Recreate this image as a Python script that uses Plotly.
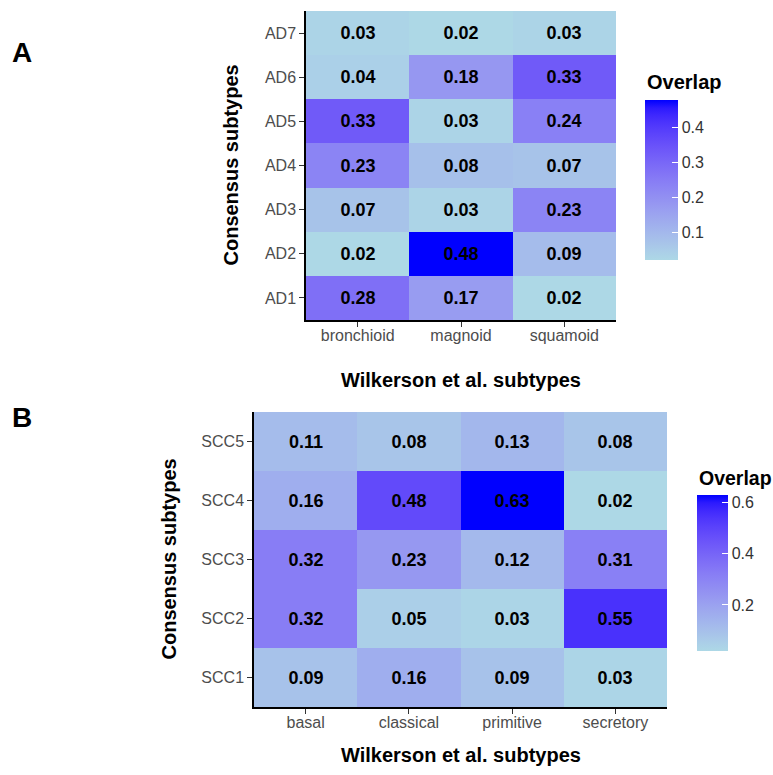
import plotly.graph_objects as go

# ---------------- data ----------------
a_cols = ["bronchioid", "magnoid", "squamoid"]
a_rows = ["AD1", "AD2", "AD3", "AD4", "AD5", "AD6", "AD7"]
a_vals = [
    [0.28, 0.17, 0.02],
    [0.02, 0.48, 0.09],
    [0.07, 0.03, 0.23],
    [0.23, 0.08, 0.07],
    [0.33, 0.03, 0.24],
    [0.04, 0.18, 0.33],
    [0.03, 0.02, 0.03],
]
a_ticks = [0.1, 0.2, 0.3, 0.4]

b_cols = ["basal", "classical", "primitive", "secretory"]
b_rows = ["SCC1", "SCC2", "SCC3", "SCC4", "SCC5"]
b_vals = [
    [0.09, 0.16, 0.09, 0.03],
    [0.32, 0.05, 0.03, 0.55],
    [0.32, 0.23, 0.12, 0.31],
    [0.16, 0.48, 0.63, 0.02],
    [0.11, 0.08, 0.13, 0.08],
]
b_ticks = [0.2, 0.4, 0.6]

x_title = "Wilkerson et al. subtypes"
y_title = "Consensus subtypes"
legend_title = "Overlap"

# ---------------- colour scale (Lab interpolation, like ggplot) ----------------
def hex_to_rgb(h):
    h = h.lstrip("#")
    return [int(h[i:i + 2], 16) / 255 for i in (0, 2, 4)]

def srgb_to_lin(c):
    return c / 12.92 if c <= 0.04045 else ((c + 0.055) / 1.055) ** 2.4

def lin_to_srgb(c):
    c = max(0.0, min(1.0, c))
    return 12.92 * c if c <= 0.0031308 else 1.055 * c ** (1 / 2.4) - 0.055

WX, WY, WZ = 0.95047, 1.0, 1.08883

def f(t):
    return t ** (1 / 3) if t > 216 / 24389 else (24389 / 27 * t + 16) / 116

def finv(t):
    return t ** 3 if t ** 3 > 216 / 24389 else (116 * t - 16) / (24389 / 27)

def rgb_to_lab(rgb):
    r, g, b = [srgb_to_lin(c) for c in rgb]
    X = 0.4124 * r + 0.3576 * g + 0.1805 * b
    Y = 0.2126 * r + 0.7152 * g + 0.0722 * b
    Z = 0.0193 * r + 0.1192 * g + 0.9505 * b
    fx, fy, fz = f(X / WX), f(Y / WY), f(Z / WZ)
    return [116 * fy - 16, 500 * (fx - fy), 200 * (fy - fz)]

def lab_to_rgb(lab):
    L, A, B = lab
    fy = (L + 16) / 116
    fx = fy + A / 500
    fz = fy - B / 200
    X, Y, Z = WX * finv(fx), WY * finv(fy), WZ * finv(fz)
    r = 3.2406 * X - 1.5372 * Y - 0.4986 * Z
    g = -0.9689 * X + 1.8758 * Y + 0.0415 * Z
    b = 0.0557 * X - 0.2040 * Y + 1.0570 * Z
    return [round(lin_to_srgb(c) * 255) for c in (r, g, b)]

low, high = rgb_to_lab(hex_to_rgb("#ADD8E6")), rgb_to_lab(hex_to_rgb("#0000FF"))
cscale = []
N = 20
for i in range(N + 1):
    t = i / N
    lab = [low[k] + (high[k] - low[k]) * t for k in range(3)]
    r, g, b = lab_to_rgb(lab)
    cscale.append([t, f"rgb({r},{g},{b})"])

# ---------------- layout geometry ----------------
W, H = 773, 775
FONT = "Liberation Sans, Arial, sans-serif"

def px_x(x):
    return x / W

def px_y(y):
    return 1 - y / H

A_box = (306, 616, 11, 320)   # left, right, top, bottom
B_box = (254, 667, 412, 707)

fig = go.Figure()

def add_heat(vals, cols, rows, xa, ya, cb_left, cb_top, cb_bottom, cb_w, ticks):
    flat = [v for r in vals for v in r]
    fig.add_trace(go.Heatmap(
        z=vals, x=cols, y=rows, xaxis=xa, yaxis=ya,
        colorscale=cscale, zmin=min(flat), zmax=max(flat),
        texttemplate="<b>%{z:.2f}</b>",
        textfont=dict(family=FONT, size=18, color="black"),
        hoverinfo="skip",
        colorbar=dict(
            x=px_x(cb_left), xanchor="left", xpad=0,
            y=px_y((cb_top + cb_bottom) / 2), yanchor="middle", ypad=0,
            len=cb_bottom - cb_top, lenmode="pixels",
            thickness=cb_w, thicknessmode="pixels",
            outlinewidth=0,
            tickvals=ticks, ticktext=[f"{t:g}" for t in ticks],
            ticks="inside", ticklen=6, tickcolor="white", tickwidth=1,
            tickfont=dict(family=FONT, size=16, color="#333333"),
        ),
    ))

add_heat(a_vals, a_cols, a_rows, "x", "y", 645, 100, 260, 33, a_ticks)
add_heat(b_vals, b_cols, b_rows, "x2", "y2", 697, 495, 651, 31, b_ticks)

axis_common = dict(
    showline=True, linecolor="black", linewidth=1.5,
    ticks="outside", ticklen=5, tickwidth=1.2, tickcolor="#333333",
    tickfont=dict(family=FONT, size=16, color="#4D4D4D"),
    showgrid=False, zeroline=False, fixedrange=True,
)
xaxis_extra = dict(ticklabelstandoff=-5)

fig.update_layout(
    width=W, height=H,
    margin=dict(l=0, r=0, t=0, b=0),
    paper_bgcolor="white", plot_bgcolor="white",
    xaxis=dict(domain=[px_x(A_box[0]), px_x(A_box[1])], anchor="y", **axis_common, **xaxis_extra),
    yaxis=dict(domain=[px_y(A_box[3]), px_y(A_box[2])], anchor="x", **axis_common),
    xaxis2=dict(domain=[px_x(B_box[0]), px_x(B_box[1])], anchor="y2", **axis_common, **xaxis_extra),
    yaxis2=dict(domain=[px_y(B_box[3]), px_y(B_box[2])], anchor="x2", **axis_common),
    showlegend=False,
)

def ann(text, x, y, size, rot=0, xanchor="center"):
    fig.add_annotation(
        text=f"<b>{text}</b>", x=px_x(x), y=px_y(y), xref="paper", yref="paper",
        xanchor=xanchor, yanchor="middle", showarrow=False, textangle=rot,
        font=dict(family=FONT, size=size, color="black"),
    )

ann("A", 10, 53, 28, xanchor="left")
ann("B", 10, 418, 28, xanchor="left")
ann(x_title, (A_box[0] + A_box[1]) / 2, 380, 20)
ann(y_title, 230, (A_box[2] + A_box[3]) / 2, 20, rot=-90)
ann(x_title, (B_box[0] + B_box[1]) / 2, 755, 20)
ann(y_title, 168, (B_box[2] + B_box[3]) / 2, 20, rot=-90)
ann(legend_title, 645, 82, 20, xanchor="left")
ann(legend_title, 697, 478, 19.5, xanchor="left")

fig.write_html("out.html", config={"displayModeBar": False},
               post_script="document.body.style.margin='0';")
